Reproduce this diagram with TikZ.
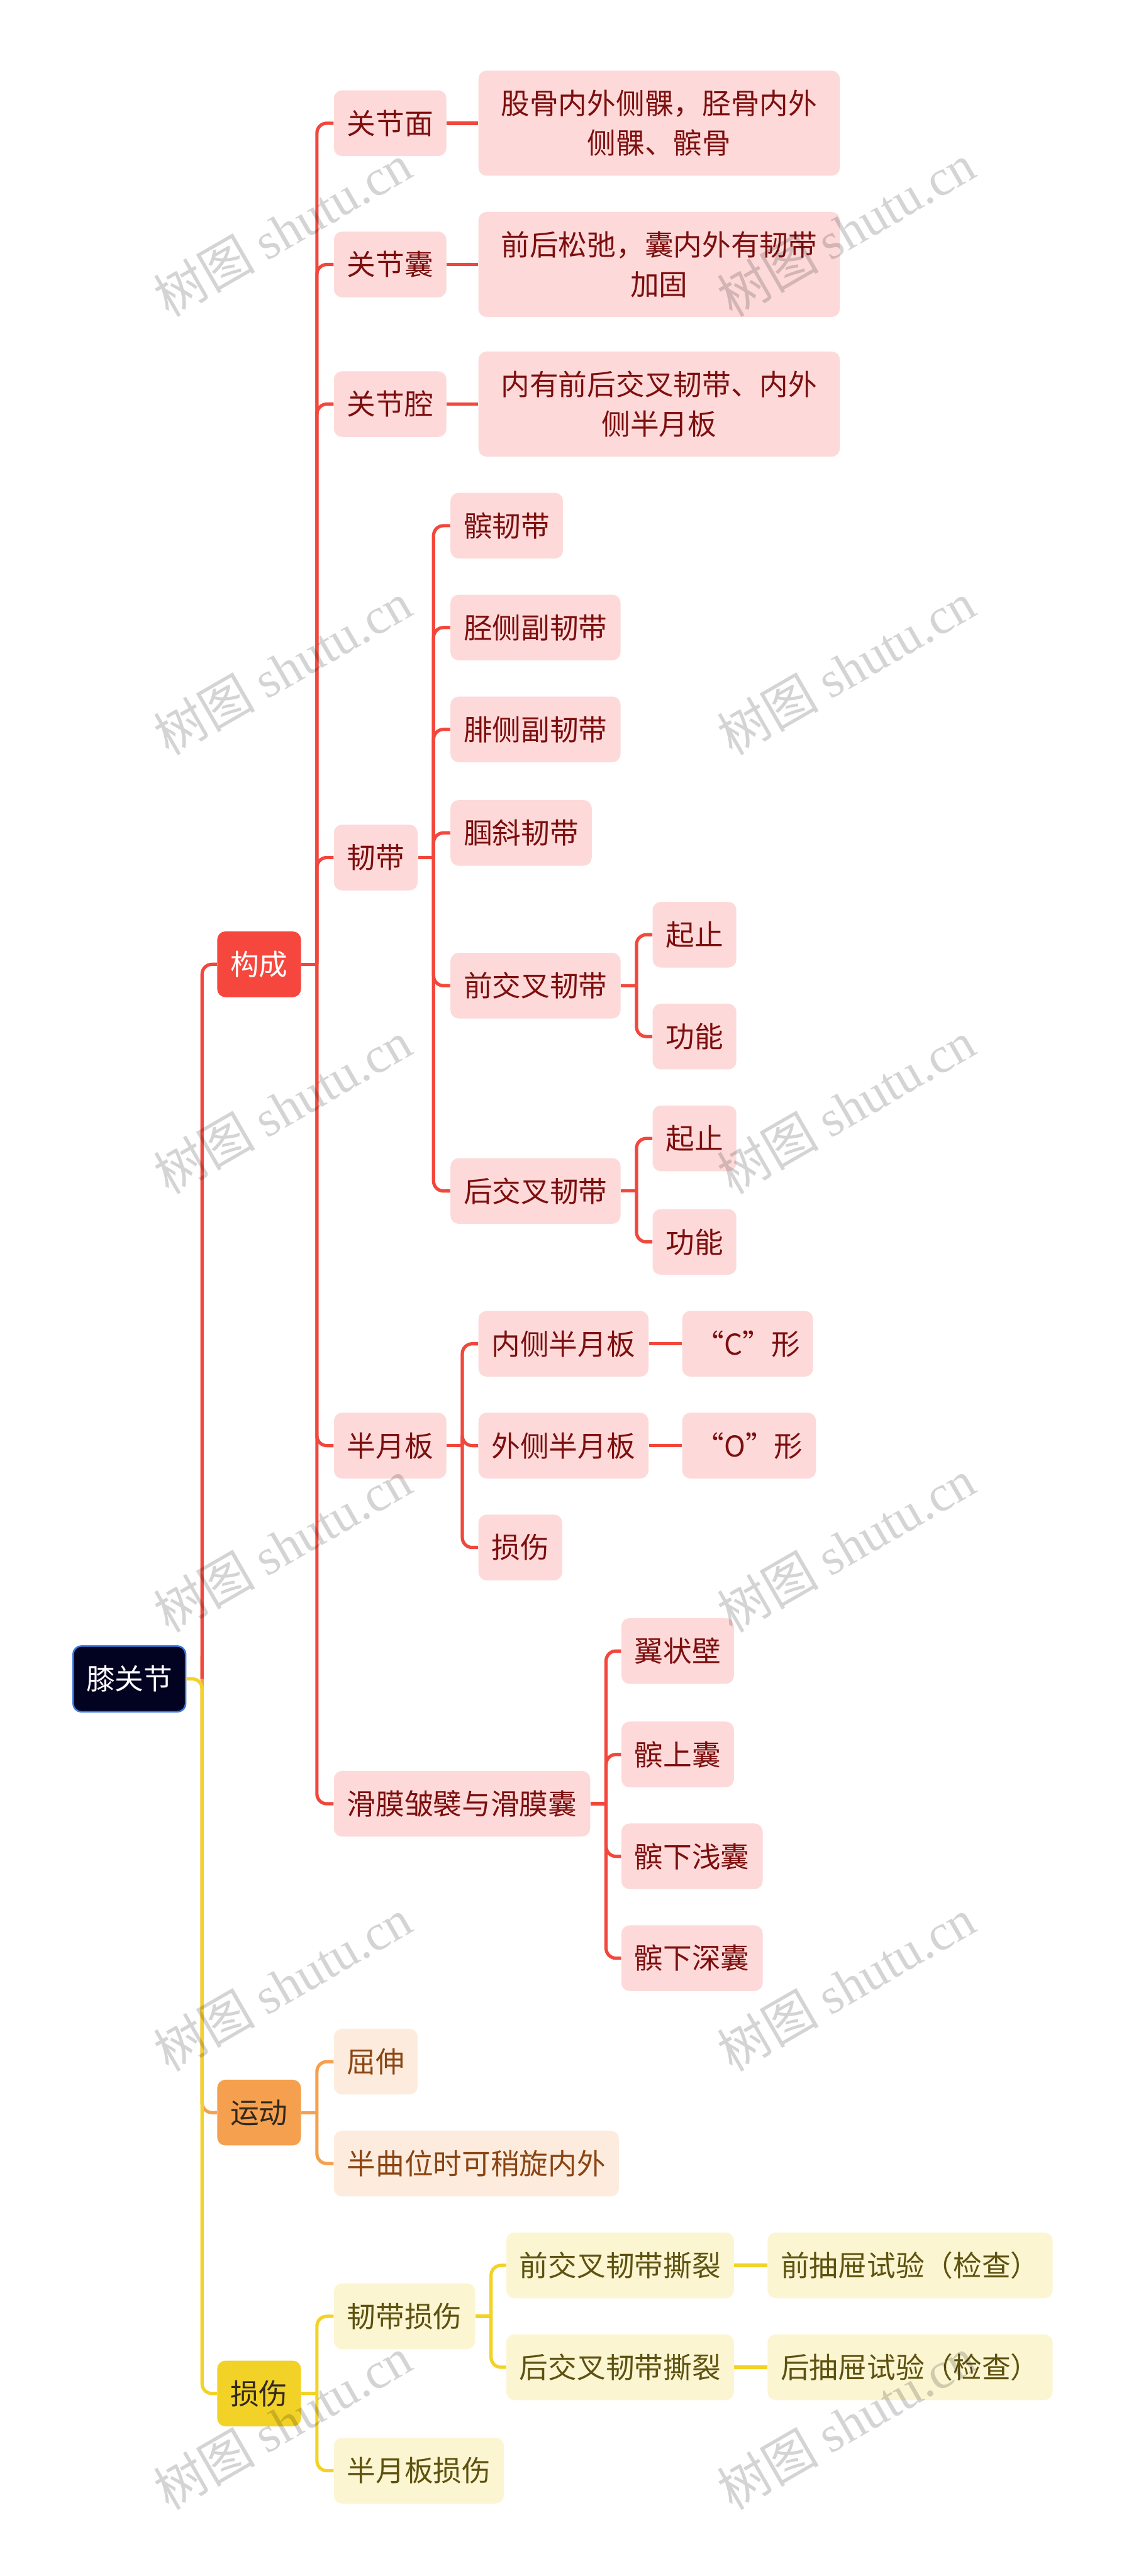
\documentclass[tikz,border=0pt]{standalone}
\usepackage{fontspec}
\setmainfont{Noto Sans CJK SC}
\newfontfamily\wmlat{Liberation Serif}
\newfontfamily\wmcjk{Noto Sans CJK SC}
\usetikzlibrary{calc}
\definecolor{redline}{HTML}{F2473C}
\definecolor{redfill}{HTML}{F5473D}
\definecolor{pinkfill}{HTML}{FDDAD9}
\definecolor{pinktext}{HTML}{7D0F0F}
\definecolor{rootfill}{HTML}{020221}
\definecolor{rootborder}{HTML}{3C7BE0}
\definecolor{yline}{HTML}{F2D325}
\definecolor{yfillmain}{HTML}{F2D226}
\definecolor{yfill}{HTML}{FCF5D2}
\definecolor{ytext}{HTML}{5E5210}
\definecolor{oline}{HTML}{F5A04E}
\definecolor{ofill}{HTML}{FDECDD}
\definecolor{otext}{HTML}{8B4513}
\definecolor{darktext}{HTML}{33291F}
\newcommand\linkit[3]{\draw[#1] ($(#2.east)+(9.5,0)$) |- (#3.west);}
\newcommand\stubit[2]{\draw[#1] (#2.east) -- ++(9.5,0);}
\begin{document}
\begin{tikzpicture}[x=1pt,y=-1pt,
  box/.style={rounded corners=5pt, inner xsep=8pt, inner ysep=0pt, minimum height=40pt,
    font=\fontsize{17.5}{24}\selectfont, anchor=west, align=center},
  rootbox/.style={box, fill=rootfill, draw=rootborder, line width=1pt, text=white},
  mainred/.style={box, fill=redfill, text=white},
  mainorange/.style={box, fill=oline, text=darktext},
  mainyellow/.style={box, fill=yfillmain, text=darktext},
  pk/.style={box, fill=pinkfill, text=pinktext},
  pkwide/.style={pk, minimum width=220pt, minimum height=64pt},
  ok/.style={box, fill=ofill, text=otext},
  yk/.style={box, fill=yfill, text=ytext},
  rl/.style={draw=redline, line width=2pt, rounded corners=6pt},
  yl/.style={draw=yline, line width=2pt, rounded corners=6pt},
  ol/.style={draw=oline, line width=2pt, rounded corners=6pt},
  wm/.style={rotate=30, text=black, opacity=0.17, font=\fontsize{31}{31}\selectfont, inner sep=0pt}
]
\useasboundingbox (0,0) rectangle (684,1568.1);
\fill[white] (0,0) rectangle (684,1568.1);

% root and main branches
\node[rootbox] (root) at (44,1022) {膝关节};
\node[mainred] (gc) at (132,587) {构成};
\node[mainorange] (yd) at (132,1286) {运动};
\node[mainyellow] (ss) at (132,1457) {损伤};

% 构成 children
\node[pk] (gjm) at (203,75) {关节面};
\node[pk] (gjn) at (203,161) {关节囊};
\node[pk] (gjq) at (203,246) {关节腔};
\node[pk] (rd) at (203,522) {韧带};
\node[pk] (byb) at (203,880) {半月板};
\node[pk] (hm) at (203,1098) {滑膜皱襞与滑膜囊};

\node[pkwide] (d1) at (291,75) {股骨内外侧髁，胫骨内外\\侧髁、髌骨};
\node[pkwide] (d2) at (291,161) {前后松弛，囊内外有韧带\\加固};
\node[pkwide] (d3) at (291,246) {内有前后交叉韧带、内外\\侧半月板};

% 韧带 children
\node[pk] (r1) at (274,320) {髌韧带};
\node[pk] (r2) at (274,382) {胫侧副韧带};
\node[pk] (r3) at (274,444) {腓侧副韧带};
\node[pk] (r4) at (274,507) {腘斜韧带};
\node[pk] (r5) at (274,600) {前交叉韧带};
\node[pk] (r6) at (274,725) {后交叉韧带};
\node[pk] (r5a) at (397,569) {起止};
\node[pk] (r5b) at (397,631) {功能};
\node[pk] (r6a) at (397,693) {起止};
\node[pk] (r6b) at (397,756) {功能};

% 半月板 children
\node[pk] (b1) at (291,818) {内侧半月板};
\node[pk] (b2) at (291,880) {外侧半月板};
\node[pk] (b3) at (291,942) {损伤};
\node[pk] (b1a) at (415,818) {“C”形};
\node[pk] (b2a) at (415,880) {“O”形};

% 滑膜 children
\node[pk] (h1) at (378,1005) {翼状壁};
\node[pk] (h2) at (378,1068) {髌上囊};
\node[pk] (h3) at (378,1130) {髌下浅囊};
\node[pk] (h4) at (378,1192) {髌下深囊};

% 运动 children
\node[ok] (y1) at (203,1255) {屈伸};
\node[ok] (y2) at (203,1317) {半曲位时可稍旋内外};

% 损伤 children
\node[yk] (s1) at (203,1410) {韧带损伤};
\node[yk] (s2) at (203,1504) {半月板损伤};
\node[yk] (s1a) at (308,1379) {前交叉韧带撕裂};
\node[yk] (s1b) at (308,1441) {后交叉韧带撕裂};
\node[yk] (s1aa) at (467,1379) {前抽屉试验（检查）};
\node[yk] (s1bb) at (467,1441) {后抽屉试验（检查）};

% root connectors
\coordinate (rs) at ($(root.east)+(9.5,0)$);
\draw[ol] ($(rs)+(0,-14)$) |- (yd.west);
\draw[rl] (rs) |- (gc.west);
\draw[yl] (root.east) -- (rs) |- (ss.west);

% 构成
\stubit{rl}{gc}
\foreach \c in {gjm,gjn,gjq,rd,byb,hm} {\linkit{rl}{gc}{\c}}
\draw[rl] (gjm.east) -- (d1.west);
\draw[rl] (gjn.east) -- (d2.west);
\draw[rl] (gjq.east) -- (d3.west);
\stubit{rl}{rd}
\foreach \c in {r1,r2,r3,r4,r5,r6} {\linkit{rl}{rd}{\c}}
\stubit{rl}{r5}
\foreach \c in {r5a,r5b} {\linkit{rl}{r5}{\c}}
\stubit{rl}{r6}
\foreach \c in {r6a,r6b} {\linkit{rl}{r6}{\c}}
\stubit{rl}{byb}
\foreach \c in {b1,b2,b3} {\linkit{rl}{byb}{\c}}
\draw[rl] (b1.east) -- (b1a.west);
\draw[rl] (b2.east) -- (b2a.west);
\stubit{rl}{hm}
\foreach \c in {h1,h2,h3,h4} {\linkit{rl}{hm}{\c}}

% 运动
\stubit{ol}{yd}
\foreach \c in {y1,y2} {\linkit{ol}{yd}{\c}}

% 损伤
\stubit{yl}{ss}
\foreach \c in {s1,s2} {\linkit{yl}{ss}{\c}}
\stubit{yl}{s1}
\foreach \c in {s1a,s1b} {\linkit{yl}{s1}{\c}}
\draw[yl] (s1a.east) -- (s1aa.west);
\draw[yl] (s1b.east) -- (s1bb.west);

% watermarks
\foreach \wy [count=\i] in {140,407,674,941,1208,1475} {
  \node[wm] (wl\i) at (172,\wy) {{\wmcjk 树图} {\wmlat shutu.cn}};
  \node[wm] (wr\i) at (515,\wy) {{\wmcjk 树图} {\wmlat shutu.cn}};
}
\end{tikzpicture}
\end{document}
